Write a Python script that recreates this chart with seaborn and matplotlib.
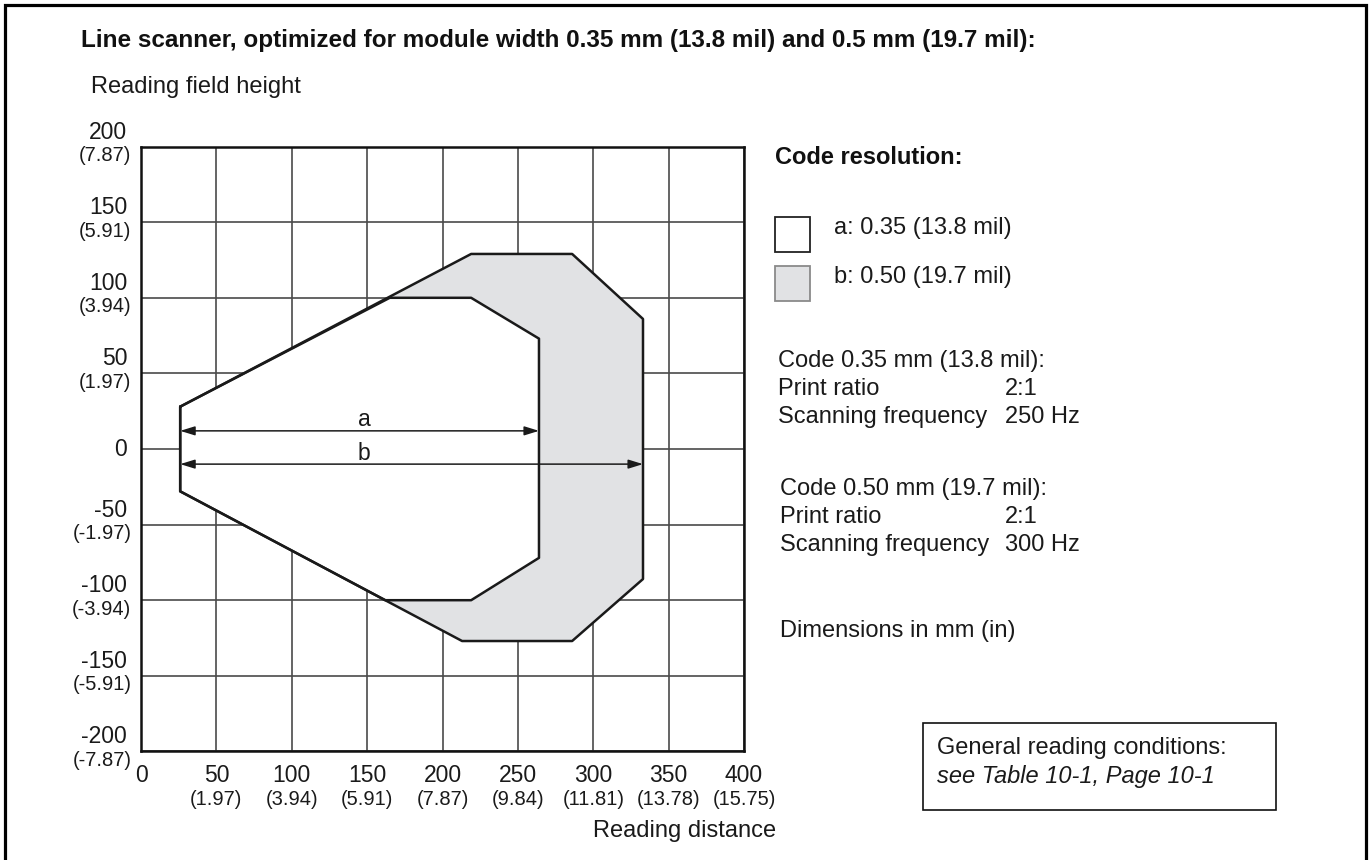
import matplotlib
matplotlib.use("Agg")
import matplotlib.pyplot as plt
from matplotlib.patches import Rectangle
from matplotlib.lines import Line2D
import seaborn as sns
import pandas as pd

# Reading field outlines (reading distance mm, field height mm)
zone_a_x = [26, 165, 219, 264, 264, 219, 162, 26]
zone_a_y = [28, 100, 100, 73, -72, -100, -100, -28]
zone_b_x = [26, 219, 286, 333, 333, 286, 213, 26]
zone_b_y = [28, 129, 129, 86, -86, -127, -127, -28]

# Dimension arrows: start, end, height
arrow_a = (26, 264, 12)
arrow_b = (26, 333, -10)

x_ticks_mm = [0, 50, 100, 150, 200, 250, 300, 350, 400]
x_ticks_in = ["", "(1.97)", "(3.94)", "(5.91)", "(7.87)", "(9.84)", "(11.81)", "(13.78)", "(15.75)"]
y_ticks_mm = [200, 150, 100, 50, 0, -50, -100, -150, -200]
y_ticks_in = ["(7.87)", "(5.91)", "(3.94)", "(1.97)", "", "(-1.97)", "(-3.94)", "(-5.91)", "(-7.87)"]

title = "Line scanner, optimized for module width 0.35 mm (13.8 mil) and 0.5 mm (19.7 mil):"
legend_title = "Code resolution:"
legend_labels = ["a: 0.35 (13.8 mil)", "b: 0.50 (19.7 mil)"]
code_a_lines = [("Code 0.35 mm (13.8 mil):", ""), ("Print ratio", "2:1"), ("Scanning frequency", "250 Hz")]
code_b_lines = [("Code 0.50 mm (19.7 mil):", ""), ("Print ratio", "2:1"), ("Scanning frequency", "300 Hz")]

sns.set_theme(style="white")
plt.rcParams["font.family"] = ["Liberation Sans", "DejaVu Sans"]

W, H = 1369, 860
fig = plt.figure(figsize=(W / 100, H / 100), dpi=100)
fig.patch.set_facecolor("white")


def fx(px):
    return px / W


def fy(py):
    return 1 - py / H


TXT = "#1a1a1a"
GRAY = "#e1e2e4"

ax = fig.add_axes([fx(141), fy(751.4), fx(744) - fx(141), fy(146.6) - fy(751.4)])
ax.set_xlim(0, 400)
ax.set_ylim(-200, 200)
ax.set_xticks(x_ticks_mm)
ax.set_yticks(y_ticks_mm)
ax.set_xticklabels([])
ax.set_yticklabels([])
ax.tick_params(length=0)
ax.grid(True, color="#4a4a4a", lw=1.2)
ax.set_axisbelow(True)
for s in ax.spines.values():
    s.set_color("#111111")
    s.set_linewidth(1.8)

# filled zones
ax.fill(zone_b_x, zone_b_y, color=GRAY, zorder=2, lw=0)
ax.fill(zone_a_x, zone_a_y, color="white", zorder=3, lw=0)

outline = pd.concat([
    pd.DataFrame({"x": zone_b_x + zone_b_x[:1], "y": zone_b_y + zone_b_y[:1], "zone": "b"}),
    pd.DataFrame({"x": zone_a_x + zone_a_x[:1], "y": zone_a_y + zone_a_y[:1], "zone": "a"}),
], ignore_index=True)
sns.lineplot(data=outline, x="x", y="y", units="zone", estimator=None, sort=False,
             color="#1a1a1a", lw=1.8, ax=ax, zorder=4, legend=False)
ax.set_xlabel("")
ax.set_ylabel("")

# dimension arrows
for (x0, x1, yv), lab in [(arrow_a, "a"), (arrow_b, "b")]:
    ax.annotate("", xy=(x1, yv), xytext=(x0, yv),
                arrowprops=dict(arrowstyle="<|-|>,head_length=0.55,head_width=0.17",
                                mutation_scale=16, lw=1.1, color="#1a1a1a",
                                shrinkA=0, shrinkB=0), zorder=5)
    ax.text(148, yv + 3, lab, ha="center", va="baseline", fontsize=16.5, color=TXT, zorder=6)

# tick labels (mm on top, inches below)
for v, inch in zip(x_ticks_mm, x_ticks_in):
    ax.annotate(str(v), xy=(v, 0), xycoords=("data", "axes fraction"),
                xytext=(0, -17.5), textcoords="offset points",
                ha="center", va="center", fontsize=16.5, color=TXT)
    if inch:
        ax.annotate(inch, xy=(v, 0), xycoords=("data", "axes fraction"),
                    xytext=(0, -34.5), textcoords="offset points",
                    ha="center", va="center", fontsize=14.5, color=TXT)
for v, inch in zip(y_ticks_mm, y_ticks_in):
    dy = 10.5 if inch else 0
    ax.annotate(str(v), xy=(0, v), xycoords=("axes fraction", "data"),
                xytext=(-10, dy), textcoords="offset points",
                ha="right", va="center", fontsize=16.5, color=TXT)
    if inch:
        ax.annotate(inch, xy=(0, v), xycoords=("axes fraction", "data"),
                    xytext=(-7, -6.5), textcoords="offset points",
                    ha="right", va="center", fontsize=14.5, color=TXT)

# titles and axis captions
fig.text(fx(81), fy(41), title, ha="left", va="center", fontsize=17.5, fontweight="bold", color="#111111")
fig.text(fx(91), fy(87), "Reading field height", ha="left", va="center", fontsize=17, color=TXT)
fig.text(fx(776), fy(831), "Reading distance", ha="right", va="center", fontsize=17, color=TXT)

# legend
fig.text(fx(775), fy(157), legend_title, ha="left", va="center", fontsize=17, fontweight="bold", color="#111111")
for (top, fc, ec), lab in zip([(217, "white", "#222222"), (266, GRAY, "#8a8a8a")], legend_labels):
    fig.patches.append(Rectangle((fx(775), fy(top + 35)), fx(35), 35 / H, transform=fig.transFigure,
                                 facecolor=fc, edgecolor=ec, lw=1.3))
    fig.text(fx(834), fy(top + 11), lab, ha="left", va="center", fontsize=17, color=TXT)

# scanning conditions
for lines, y0, xl in [(code_a_lines, 361, 778), (code_b_lines, 489, 780)]:
    for i, (left, right) in enumerate(lines):
        yy = y0 + i * 28
        fig.text(fx(xl), fy(yy), left, ha="left", va="center", fontsize=17, color=TXT)
        if right:
            fig.text(fx(1005), fy(yy), right, ha="left", va="center", fontsize=17, color=TXT)
fig.text(fx(780), fy(631), "Dimensions in mm (in)", ha="left", va="center", fontsize=17, color=TXT)

# reference box
fig.patches.append(Rectangle((fx(923), fy(810)), fx(1276 - 923), (810 - 723) / H, transform=fig.transFigure,
                             facecolor="white", edgecolor="#111111", lw=1.2))
fig.text(fx(937), fy(748), "General reading conditions:", ha="left", va="center", fontsize=17, color=TXT)
fig.text(fx(937), fy(777), "see Table 10-1, Page 10-1", ha="left", va="center", fontsize=17,
         style="italic", color=TXT)

# page frame (open at the bottom)
fig.lines.append(Line2D([fx(4.5), fx(4.5), fx(1365.5), fx(1365.5)], [0, fy(5), fy(5), 0],
                        transform=fig.transFigure, color="black", lw=2.3, solid_joinstyle="miter"))

fig.savefig("out.png", dpi=100, facecolor="white")
